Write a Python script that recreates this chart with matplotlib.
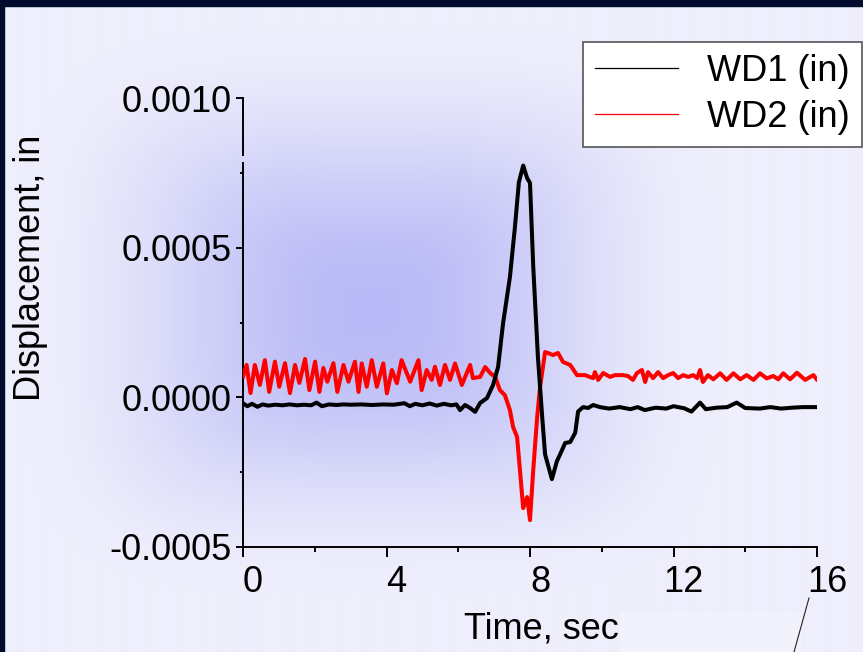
import matplotlib
matplotlib.use("Agg")
import matplotlib.pyplot as plt
import numpy as np
from matplotlib.lines import Line2D
from matplotlib.patches import Rectangle
from matplotlib.transforms import ScaledTranslation

plt.rcParams["font.family"] = ["Liberation Sans", "DejaVu Sans"]

# WD2 (red) trace, time in sec, displacement in 1e-4 in
t_wd2 = [0.00, 0.10, 0.21, 0.33, 0.47, 0.61, 0.73, 0.89, 1.01, 1.17, 1.31, 1.45,
         1.57, 1.73, 1.85, 2.01, 2.13, 2.24, 2.35, 2.52, 2.63, 2.80, 2.94, 3.12,
         3.22, 3.31, 3.45, 3.59, 3.73, 3.91, 4.01, 4.15, 4.29, 4.42, 4.66, 4.89,
         4.98, 5.12, 5.26, 5.35, 5.49, 5.63, 5.77, 5.91, 6.10, 6.33, 6.41, 6.61,
         6.75, 6.89, 7.03, 7.16, 7.30, 7.44, 7.53, 7.64, 7.72, 7.81, 7.92, 8.00,
         8.09, 8.20, 8.28, 8.42, 8.50, 8.64, 8.78, 8.92, 9.12, 9.31, 9.53, 9.76,
         9.81, 9.90, 10.04, 10.23, 10.37, 10.59, 10.73, 10.87, 10.98, 11.12, 11.21,
         11.29, 11.43, 11.57, 11.71, 11.85, 11.99, 12.13, 12.27, 12.41, 12.55,
         12.66, 12.74, 12.82, 12.96, 13.11, 13.30, 13.48, 13.67, 13.86, 14.04,
         14.23, 14.41, 14.60, 14.78, 14.92, 15.06, 15.25, 15.44, 15.67, 15.90, 15.99]
wd2 = [0.69, 1.08, 0.14, 1.08, 0.41, 1.24, 0.18, 1.19, 0.35, 1.14, 0.14, 1.08,
       0.48, 1.28, 0.24, 1.19, 0.18, 0.98, 0.52, 1.14, 0.18, 1.08, 0.52, 1.19,
       0.18, 1.13, 0.35, 1.24, 0.35, 1.13, 0.13, 0.91, 0.47, 1.24, 0.52, 1.24,
       0.24, 0.91, 0.58, 1.02, 0.41, 1.08, 0.58, 1.13, 0.41, 1.08, 0.64, 0.68,
       1.01, 0.81, 0.68, 0.24, 0.07, -0.43, -1.00, -1.33, -2.44, -3.71, -3.34, -4.11,
       -2.44, -0.66, 0.34, 1.51, 1.48, 1.41, 1.48, 1.18, 1.08, 0.74, 0.74, 0.64,
       0.84, 0.58, 0.81, 0.68, 0.74, 0.74, 0.71, 0.58, 0.81, 0.91, 0.51,
       0.84, 0.64, 0.84, 0.64, 0.74, 0.81, 0.64, 0.74, 0.68, 0.74,
       0.64, 0.91, 0.51, 0.74, 0.60, 0.80, 0.58, 0.80, 0.60, 0.74,
       0.58, 0.80, 0.63, 0.71, 0.60, 0.80, 0.60, 0.82, 0.58, 0.74, 0.60]

# WD1 (black) trace
t_wd1 = [0.00, 0.12, 0.25, 0.40, 0.55, 0.70, 0.90, 1.10, 1.30, 1.50, 1.70, 1.90,
         2.05, 2.20, 2.40, 2.60, 2.80, 3.00, 3.30, 3.60, 3.90, 4.20, 4.50, 4.65,
         4.80, 5.00, 5.20, 5.40, 5.60, 5.80, 5.95, 6.05, 6.19, 6.33, 6.47, 6.61,
         6.80, 6.97, 7.11, 7.25, 7.44, 7.58, 7.69, 7.81, 7.92, 8.00, 8.09, 8.22,
         8.34, 8.42, 8.61, 8.75, 8.84, 8.98, 9.12, 9.26, 9.34, 9.48, 9.62, 9.76,
         9.95, 10.20, 10.50, 10.80, 11.00, 11.20, 11.50, 11.80, 12.00, 12.30, 12.50,
         12.74, 12.90, 13.20, 13.50, 13.76, 14.00, 14.40, 14.70, 15.00, 15.30,
         15.60, 16.00]
wd1 = [-0.20, -0.30, -0.22, -0.32, -0.24, -0.28, -0.25, -0.27, -0.24, -0.27, -0.25, -0.27,
       -0.18, -0.30, -0.24, -0.26, -0.24, -0.25, -0.24, -0.26, -0.24, -0.25, -0.20, -0.30,
       -0.22, -0.27, -0.21, -0.28, -0.22, -0.27, -0.24, -0.43, -0.26, -0.36, -0.49, -0.19,
       -0.03, 0.41, 1.01, 2.48, 4.02, 5.69, 7.19, 7.75, 7.33, 7.17, 4.38, 1.35,
       -0.66, -1.91, -2.74, -2.14, -1.91, -1.53, -1.50, -1.19, -0.48, -0.33, -0.36, -0.26,
       -0.33, -0.38, -0.33, -0.40, -0.33, -0.43, -0.35, -0.38, -0.30, -0.37, -0.48,
       -0.18, -0.40, -0.35, -0.33, -0.18, -0.36, -0.38, -0.33, -0.38, -0.35,
       -0.33, -0.33]

SCALE = 1e-4
labels = ["WD1 (in)", "WD2 (in)"]
y_ticks = [-0.0005, 0.0, 0.0005, 0.0010]
y_ticklabels = ["-0.0005", "0.0000", "0.0005", "0.0010"]
x_ticks = [0, 4, 8, 12, 16]

W, H = 863, 652
fig = plt.figure(figsize=(W / 100, H / 100), dpi=100)

# slide background: lavender with a soft blue gradient in the middle
bg = fig.add_axes([0, 0, 1, 1])
xx, yy = np.meshgrid(np.arange(W), np.arange(H))
r = ((np.abs(xx - 370) / 350.0) ** 4 + (np.abs(yy - 310) / 285.0) ** 4) ** 0.25
w = np.clip(1 - r, 0, 1)
w = w * w * (3 - 2 * w)
edge = np.array([238, 238, 252]) / 255
centre = np.array([184, 185, 246]) / 255
img = edge + (centre - edge) * w[..., None]
bg.imshow(img, extent=[0, W, H, 0], aspect="auto", interpolation="bilinear")
bg.add_patch(Rectangle((0, 0), W, 6, color="#000b2e"))
bg.add_patch(Rectangle((0, 0), 4, H, color="#000b2e"))
bg.add_patch(Rectangle((620, 612), 180, 40, color="#f2f2fd"))
bg.plot([809, 794], [598, 652], color="#222222", lw=0.8)
bg.set_xlim(0, W)
bg.set_ylim(H, 0)
bg.axis("off")

ax = fig.add_axes([243 / W, 1 - 546.7 / H, 574 / W, 448.4 / H])
ax.patch.set_alpha(0)

ax.plot(t_wd2, np.array(wd2) * SCALE, color="red", lw=2.9, zorder=3)
ax.plot(t_wd1, np.array(wd1) * SCALE, color="black", lw=2.9, zorder=4)

ax.set_xlim(0, 16)
ax.set_ylim(-0.0005, 0.0010)
ax.set_xticks(x_ticks)
ax.set_xticks(np.arange(2, 16, 4), minor=True)
ax.set_yticks(y_ticks, y_ticklabels)
ax.set_yticks([-0.00025, 0.00025, 0.00075], minor=True)

for side in ["top", "right", "left"]:
    ax.spines[side].set_visible(False)
ax.spines["bottom"].set_linewidth(1.4)
# y axis line has a small gap near the top
ax.plot([0, 0], [0, 0.8557], transform=ax.transAxes, color="black", lw=1.4, clip_on=False)
ax.plot([0, 0], [0.8735, 1], transform=ax.transAxes, color="black", lw=1.4, clip_on=False)

ax.tick_params(axis="both", labelsize=26, width=1.4, colors="black")
ax.tick_params(axis="x", which="major", length=7, pad=6)
ax.tick_params(axis="x", which="minor", length=3.5, width=1.4)
ax.tick_params(axis="y", which="major", length=5, pad=3)
ax.tick_params(axis="y", which="minor", length=2.5, width=1.4)

shift = ScaledTranslation(10 / 100, 0, fig.dpi_scale_trans)
for lab in ax.get_xticklabels():
    lab.set_transform(lab.get_transform() + shift)

ax.set_xlabel("Time, sec", fontsize=26)
ax.xaxis.set_label_coords(0.519, -0.145)
ax.set_ylabel("Displacement, in", fontsize=26)
ax.yaxis.set_label_coords(-0.34, 0.6215)

handles = [Line2D([], [], color="black", lw=0.9), Line2D([], [], color="red", lw=0.9)]
leg = ax.legend(handles, labels, loc="upper right", bbox_to_anchor=(862 / W, 1 - 42 / H),
                bbox_transform=fig.transFigure, borderaxespad=0, fontsize=26,
                frameon=True, fancybox=False, framealpha=1, edgecolor="#555555",
                handlelength=2.3, handletextpad=0.8, labelspacing=0.3, borderpad=0.33)
leg.get_frame().set_linewidth(1.2)

fig.savefig("out.png", dpi=100)
